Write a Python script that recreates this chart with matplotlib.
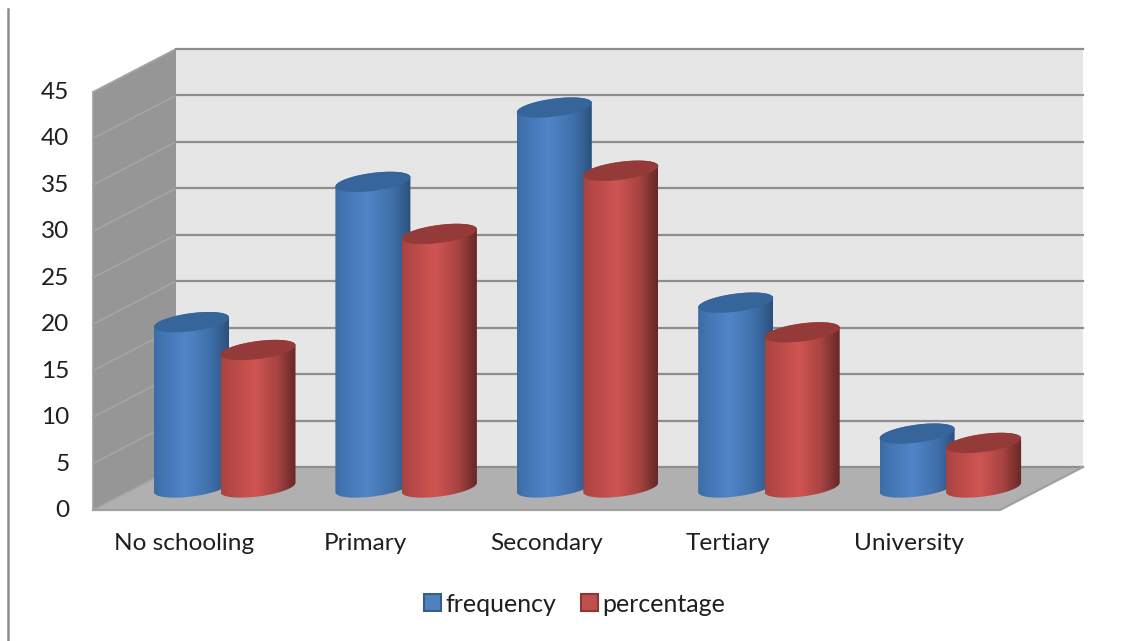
import numpy as np
import matplotlib
matplotlib.use('Agg')
import matplotlib.pyplot as plt
from matplotlib.colors import LinearSegmentedColormap
from matplotlib.patches import Patch, Polygon
from matplotlib.transforms import ScaledTranslation

categories = ['No schooling', 'Primary', 'Secondary', 'Tertiary', 'University']
frequency = [17.8, 32.9, 40.9, 19.9, 5.8]
percentage = [14.8, 27.3, 34.1, 16.7, 4.8]
y_ticks = [0, 5, 10, 15, 20, 25, 30, 35, 40, 45]

plt.rcParams['font.family'] = ['Lato', 'DejaVu Sans']

W, H = 1121, 641
fig = plt.figure(figsize=(W / 100, H / 100), dpi=100)
ax = fig.add_axes([93 / W, (H - 510) / H, 907 / W, 418 / H])
ax.patch.set_visible(False)

# size of one unit on each axis, in pixels
px_x = 907 / len(categories)
px_y = 418 / 45
depth_x = 83 / px_x
depth_y = 43 / px_y

# left wall, back wall and floor
ax.add_patch(Polygon([(0, 0), (depth_x, depth_y), (depth_x, 45 + depth_y), (0, 45)],
                     fc='#969696', ec='none', clip_on=False, zorder=1))
ax.add_patch(Polygon([(depth_x, depth_y), (5 + depth_x, depth_y), (5 + depth_x, 45 + depth_y),
                      (depth_x, 45 + depth_y)],
                     fc='#e6e6e6', ec='none', clip_on=False, zorder=1))
ax.add_patch(Polygon([(0, 0), (5, 0), (5 + depth_x, depth_y), (depth_x, depth_y)],
                     fc='#b0b0b0', ec='none', clip_on=False, zorder=1))

# gridlines
for v in y_ticks:
    ax.plot([0, depth_x], [v, v + depth_y], color='#a4a4a4', lw=1.3, clip_on=False, zorder=2)
    ax.plot([depth_x, 5 + depth_x], [v + depth_y, v + depth_y], color='#8e8e8e', lw=1.6,
            clip_on=False, zorder=2)
ax.plot([0, 5, 5 + depth_x], [0, 0, depth_y], color='#a0a0a0', lw=1.6, clip_on=False, zorder=2)
ax.plot([0, 0], [0, 45], color='#a0a0a0', lw=1.2, clip_on=False, zorder=2)

blue_cmap = LinearSegmentedColormap.from_list('blue', [(0, '#3b6ca6'), (0.12, '#4375b2'), (0.42, '#5085c8'),
                                                       (0.75, '#3f70aa'), (0.93, '#315a8a'), (1, '#28507c')])
red_cmap = LinearSegmentedColormap.from_list('red', [(0, '#a84341'), (0.12, '#b54846'), (0.45, '#cf5552'),
                                                     (0.75, '#a84341'), (0.93, '#762f2d'), (1, '#672826')])

r_x = 37.5 / px_x
r_y = 9 / px_y
tilt = 4.7 / px_y
base = 22.5 / px_y
gradient = np.linspace(0, 1, 256).reshape(1, -1)


def draw_cylinder(cx, value, cmap, top_color, order):
    t = np.linspace(0, np.pi, 60)
    ex = r_x * np.cos(t)
    upper = r_y * np.sin(t) + tilt * np.cos(t)
    lower = -r_y * np.sin(t) + tilt * np.cos(t)
    y0 = base
    y1 = base + value
    # body: upper arc of the top, lower arc of the bottom
    body = np.vstack([np.column_stack([cx + ex, y1 + upper]),
                      np.column_stack([cx + ex[::-1], y0 + lower[::-1]])])
    im = ax.imshow(gradient, cmap=cmap, aspect='auto', interpolation='bilinear',
                   extent=(cx - r_x, cx + r_x, y0 - 2 * r_y, y1 + 2 * r_y), zorder=order)
    clip = Polygon(body, transform=ax.transData, fc='none', ec='none')
    im.set_clip_path(clip)
    im.set_clip_box(fig.bbox)
    # top face
    face = np.vstack([np.column_stack([cx + ex, y1 + upper]),
                      np.column_stack([cx + ex[::-1], y1 + lower[::-1]])])
    ax.add_patch(Polygon(face, fc=top_color, ec='none', clip_on=False, zorder=order + 0.1))


for i in range(len(categories)):
    draw_cylinder(i + 98.5 / px_x, frequency[i], blue_cmap, '#35659a', 3 + i)
    draw_cylinder(i + 165 / px_x, percentage[i], red_cmap, '#943a38', 3.5 + i)

ax.set_xlim(0, 5)
ax.set_ylim(0, 45)
ax.set_xticks(np.arange(len(categories)) + 0.5)
ax.set_xticklabels(categories)
ax.set_yticks(y_ticks)
ax.tick_params(axis='both', length=0, labelsize=17.6, labelcolor='#1f1f1f')
ax.tick_params(axis='x', pad=16.3)
ax.tick_params(axis='y', pad=17)
# y labels sit a little above their gridlines
for label in ax.get_yticklabels():
    label.set_transform(label.get_transform() + ScaledTranslation(0, 1.1 / 72, fig.dpi_scale_trans))
for s in ax.spines.values():
    s.set_visible(False)

handles = [Patch(fc='#4f81bd', ec='#385d8a', lw=1.5, label='frequency'),
           Patch(fc='#c0504d', ec='#8c3836', lw=1.5, label='percentage')]
leg = fig.legend(handles=handles, ncol=2, frameon=False, loc='center', bbox_to_anchor=(575 / W, (H - 604) / H),
                 fontsize=18, handlelength=0.65, handleheight=0.65, handletextpad=0.2, columnspacing=1.0,
                 labelcolor='#1f1f1f')

# stray border at the left of the screenshot
fig.add_artist(plt.Line2D([8 / W, 8 / W], [0, (H - 9) / H], color='#8c8c8c', lw=1.8))

fig.savefig('out.png', dpi=100)
